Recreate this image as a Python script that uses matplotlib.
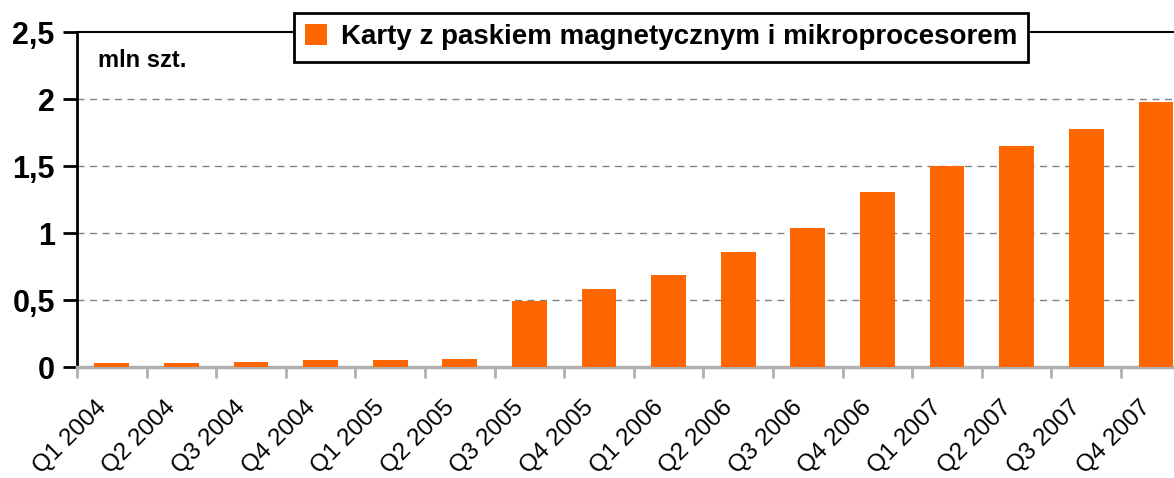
import numpy as np
import matplotlib
matplotlib.use('Agg')
import matplotlib.pyplot as plt
import matplotlib.transforms as mtransforms
from matplotlib.patches import Patch

plt.rcParams['font.family'] = ['Liberation Sans', 'DejaVu Sans']

quarters = ['Q1 2004', 'Q2 2004', 'Q3 2004', 'Q4 2004',
            'Q1 2005', 'Q2 2005', 'Q3 2005', 'Q4 2005',
            'Q1 2006', 'Q2 2006', 'Q3 2006', 'Q4 2006',
            'Q1 2007', 'Q2 2007', 'Q3 2007', 'Q4 2007']
cards = [0.03, 0.03, 0.04, 0.05, 0.05, 0.06, 0.49, 0.58,
         0.69, 0.86, 1.04, 1.31, 1.50, 1.65, 1.78, 1.98]
yticks = [0, 0.5, 1, 1.5, 2, 2.5]
ytick_labels = ['0', '0,5', '1', '1,5', '2', '2,5']
series_name = 'Karty z paskiem magnetycznym i mikroprocesorem'
unit = 'mln szt.'

orange = '#ff6600'

fig = plt.figure(figsize=(11.74, 4.78), dpi=100)
ax = fig.add_axes([0.0656, 0.232, 0.9344, 0.701])

x = np.arange(len(quarters))
ax.bar(x, cards, width=0.5, color=orange, zorder=3)

ax.set_xlim(-0.5, 15.26)
ax.set_ylim(0, 2.5)

# dashed grid lines
for v in yticks[1:-1]:
    ax.axhline(v, color='#808080', linestyle=(0, (5, 4)), linewidth=1, zorder=1)

ax.set_yticks(yticks)
ax.set_yticklabels(ytick_labels, fontsize=22, fontweight='bold')
ax.tick_params(axis='y', length=10, width=2, color='black', pad=6)

ax.set_xticks(x - 0.5, minor=False)
ax.set_xticklabels([])
ax.set_xticks(x, minor=True)
ax.set_xticklabels(quarters, minor=True, rotation=45, ha='right',
                   rotation_mode='anchor', fontsize=17.5)
ax.tick_params(axis='x', which='major', length=8, width=2, color='#b0b0b0')
ax.tick_params(axis='x', which='minor', length=0, pad=21)
shift = mtransforms.ScaledTranslation(-12 / 72, 0, fig.dpi_scale_trans)
for lbl in ax.get_xticklabels(minor=True):
    lbl.set_transform(lbl.get_transform() + shift)

ax.spines['left'].set_linewidth(2)
ax.spines['left'].set_color('black')
ax.spines['top'].set_linewidth(1.5)
ax.spines['top'].set_color('black')
ax.spines['right'].set_visible(False)
ax.spines['bottom'].set_color('#b0b0b0')
ax.spines['bottom'].set_linewidth(2.5)

ax.text(0.019, 0.95, unit, transform=ax.transAxes, fontsize=17,
        fontweight='bold', va='top', ha='left')

leg = fig.legend(handles=[Patch(facecolor=orange, edgecolor='none')],
                 labels=[series_name], loc='center',
                 bbox_to_anchor=(0.563, 0.922), fancybox=False,
                 framealpha=1, edgecolor='black', handlelength=0.8,
                 handleheight=0.8, handletextpad=0.5, borderpad=0.4,
                 prop={'weight': 'bold', 'size': 20})
leg.get_frame().set_linewidth(2)

fig.savefig('out.png', dpi=100)
